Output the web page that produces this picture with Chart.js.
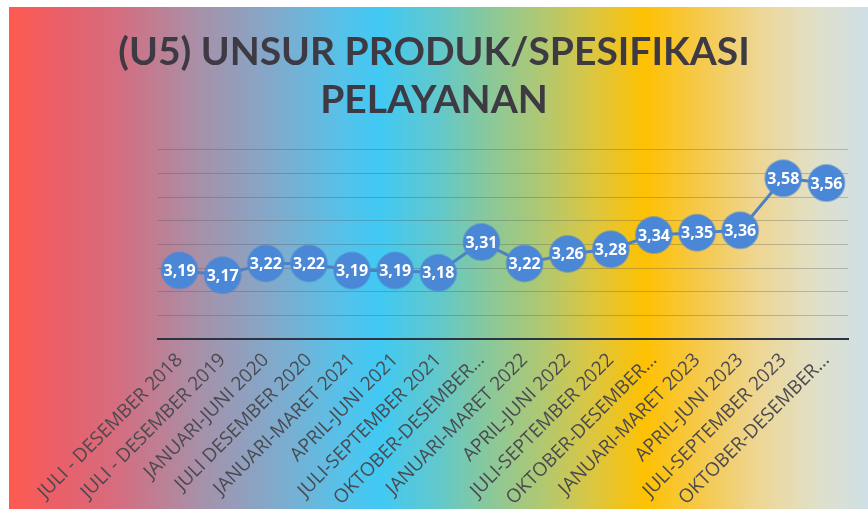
<!DOCTYPE html>
<html>
<head>
<meta charset="utf-8">
<script src="https://cdn.jsdelivr.net/npm/chart.js@4/dist/chart.umd.min.js"></script>
<style>
  html, body { margin: 0; padding: 0; background: #ffffff; }
  #wrap { width: 868px; height: 510px; position: relative; }
</style>
</head>
<body>
<div id="wrap"><canvas id="c" width="868" height="510"></canvas></div>
<script>
const titleLines = ['(U5) UNSUR PRODUK/SPESIFIKASI', 'PELAYANAN'];
const categories = [
  'JULI - DESEMBER 2018',
  'JULI - DESEMBER 2019',
  'JANUARI-JUNI 2020',
  'JULI DESEMBER 2020',
  'JANUARI-MARET 2021',
  'APRIL-JUNI 2021',
  'JULI-SEPTEMBER 2021',
  'OKTOBER-DESEMBER…',
  'JANUARI-MARET 2022',
  'APRIL-JUNI 2022',
  'JULI-SEPTEMBER 2022',
  'OKTOBER-DESEMBER…',
  'JANUARI-MARET 2023',
  'APRIL-JUNI 2023',
  'JULI-SEPTEMBER 2023',
  'OKTOBER-DESEMBER…'
];
const values = [3.19, 3.17, 3.22, 3.22, 3.19, 3.19, 3.18, 3.31, 3.22, 3.26, 3.28, 3.34, 3.35, 3.36, 3.58, 3.56];
const yMin = 2.9, yMax = 3.7, yStep = 0.1;

const bgPlugin = {
  id: 'bg',
  beforeDraw(chart) {
    const ctx = chart.ctx;
    ctx.save();
    ctx.fillStyle = '#ffffff';
    ctx.fillRect(0, 0, chart.width, chart.height);
    const x0 = 9, x1 = chart.width, y0 = 7, y1 = 509;
    const g = ctx.createLinearGradient(x0, 0, x1, 0);
    g.addColorStop(0.00, '#ff5a50');
    g.addColorStop(0.06, '#e9606a');
    g.addColorStop(0.13, '#d46e80');
    g.addColorStop(0.22, '#a890a8');
    g.addColorStop(0.32, '#7cadd0');
    g.addColorStop(0.39, '#55c2ea');
    g.addColorStop(0.43, '#40c9f4');
    g.addColorStop(0.50, '#62c8cc');
    g.addColorStop(0.55, '#84c8a0');
    g.addColorStop(0.62, '#b0c872');
    g.addColorStop(0.68, '#dcc640');
    g.addColorStop(0.74, '#fec102');
    g.addColorStop(0.80, '#f6c846');
    g.addColorStop(0.87, '#eed692');
    g.addColorStop(0.94, '#e0e0c8');
    g.addColorStop(1.00, '#cfdfe6');
    ctx.fillStyle = g;
    ctx.fillRect(x0, y0, x1 - x0, y1 - y0);
    ctx.restore();
  }
};

const labelPlugin = {
  id: 'valueLabels',
  afterDatasetsDraw(chart) {
    const ctx = chart.ctx;
    const meta = chart.getDatasetMeta(0);
    const data = chart.data.datasets[0].data;
    ctx.save();
    ctx.font = 'bold 16px "Open Sans", sans-serif';
    ctx.fillStyle = '#ffffff';
    ctx.textAlign = 'center';
    ctx.textBaseline = 'middle';
    meta.data.forEach((pt, i) => {
      const txt = data[i].toFixed(2).replace('.', ',');
      ctx.fillText(txt, pt.x, pt.y + 1);
    });
    ctx.restore();
  }
};

new Chart(document.getElementById('c'), {
  type: 'line',
  data: {
    labels: categories,
    datasets: [{
      data: values,
      borderColor: '#4f80c2',
      borderWidth: 3,
      pointRadius: 18,
      pointHoverRadius: 18,
      pointBackgroundColor: '#4a87d6',
      pointBorderColor: 'rgba(74,135,214,0.55)',
      pointBorderWidth: 2,
      tension: 0,
      fill: false
    }]
  },
  options: {
    responsive: false,
    animation: false,
    devicePixelRatio: 1,
    layout: { padding: { left: 0, right: 0, top: 0, bottom: 0 } },
    plugins: {
      legend: { display: false },
      tooltip: { enabled: false },
      title: {
        display: true,
        text: titleLines,
        color: '#3d3a44',
        font: { family: 'Lato, "Open Sans", sans-serif', size: 39, weight: 'bold', lineHeight: 1.23 },
        padding: { top: 28, bottom: 26 }
      }
    },
    scales: {
      x: {
        offset: true,
        grid: { display: false },
        border: { display: true, color: '#2c3444', width: 2 },
        ticks: {
          color: '#4a4a50',
          font: { family: '"Open Sans", sans-serif', size: 19 },
          autoSkip: false,
          maxRotation: 45,
          minRotation: 45,
          padding: 2
        },
        afterFit(s) { s.height = 171; }
      },
      y: {
        min: yMin,
        max: yMax,
        ticks: { display: false, stepSize: yStep },
        grid: { color: 'rgba(70,70,70,0.28)', lineWidth: 1, drawTicks: false },
        border: { display: false },
        afterFit(s) { s.width = 158; }
      },
      yr: {
        position: 'right',
        display: true,
        ticks: { display: false },
        grid: { display: false, drawTicks: false },
        border: { display: false },
        afterFit(s) { s.width = 20; }
      }
    }
  },
  plugins: [bgPlugin, labelPlugin]
});
</script>
</body>
</html>
